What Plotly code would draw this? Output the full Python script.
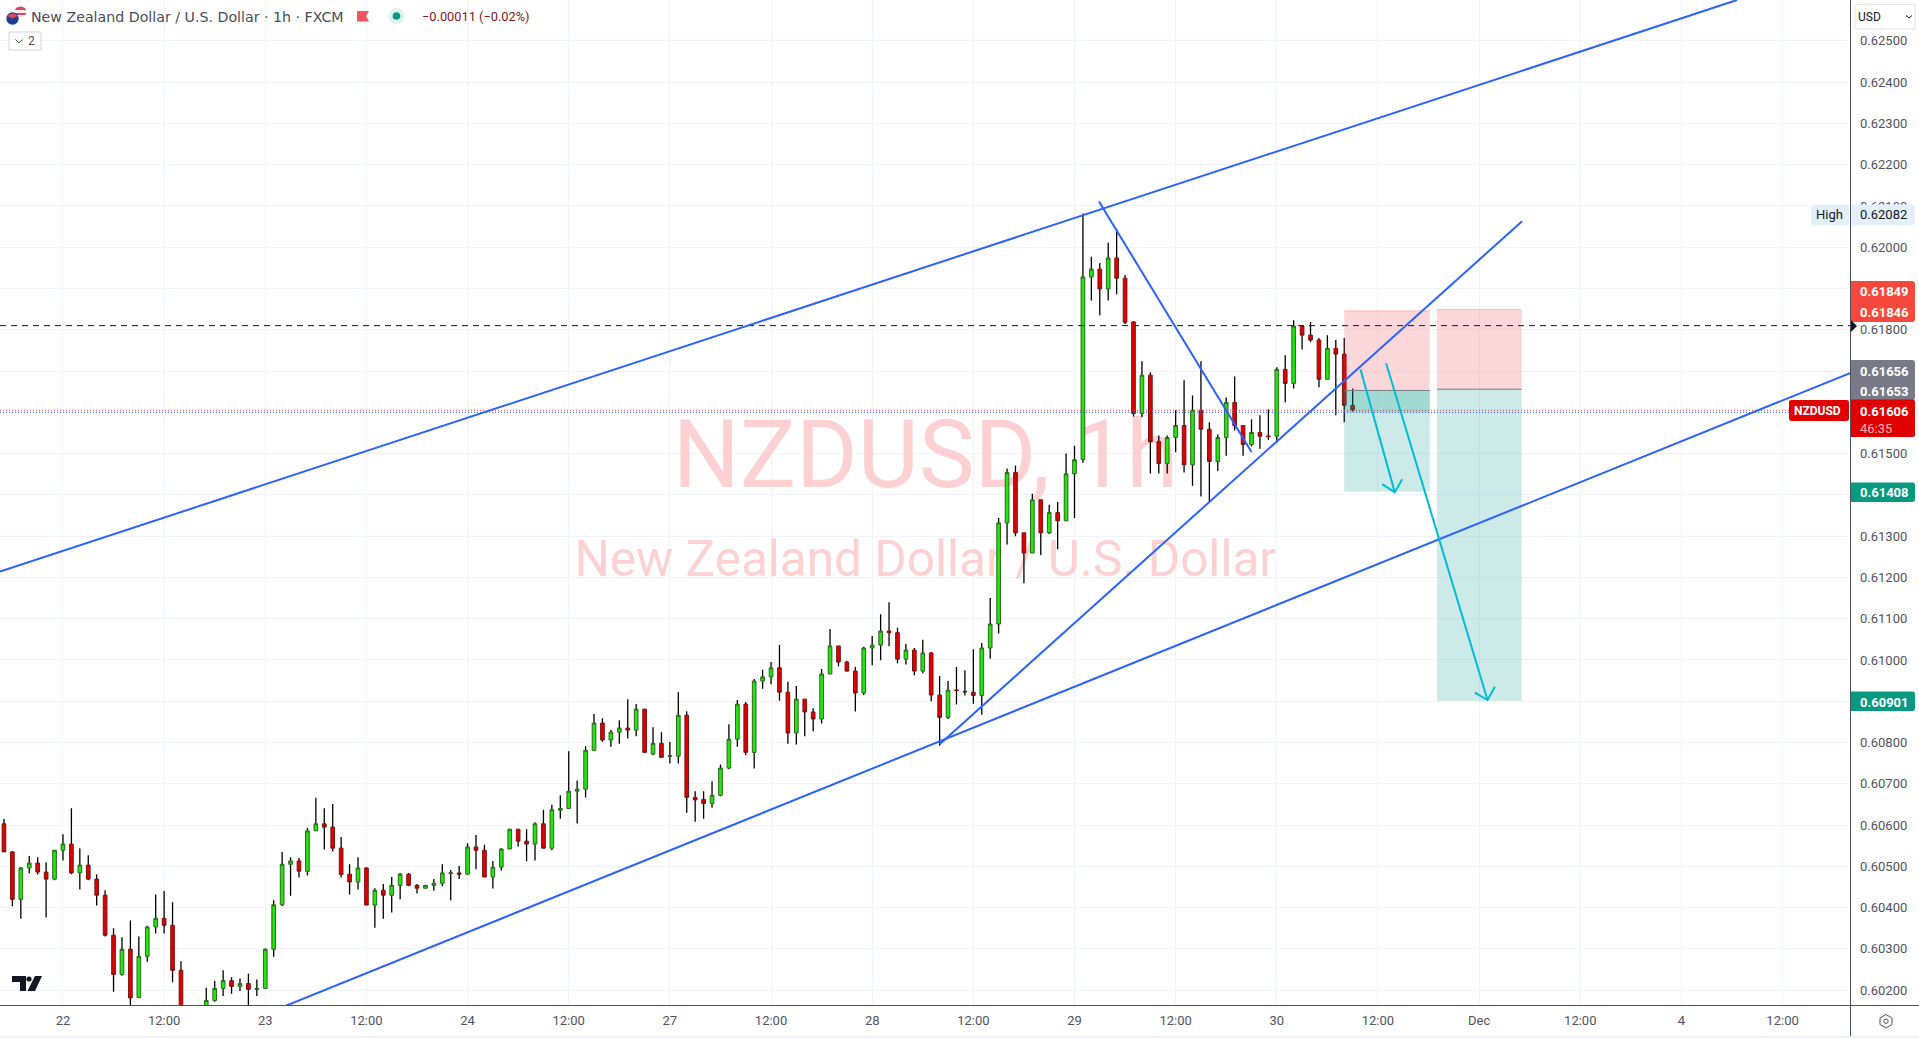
import numpy as np
import plotly.graph_objects as go

# ---------- data (prices in 1e-5 units) ----------
first_bar, last_bar = -7, 153
highs_pts = [
60615,60537,60498,60525,60522,60510,60539,60578,60641,60544,
60527,60481,60442,60350,60328,60369,60330,60356,60432,60440,
60413,60270,60151,60155,60206,60223,60248,60231,60228,60240,
60226,60301,60418,60535,60522,60520,60593,60666,60641,60651,
60571,60505,60522,60498,60447,60457,60474,60484,60484,60457,
60455,60469,60505,60491,60501,60556,60576,60552,60513,60544,
60590,60590,60590,60607,60637,60649,60672,60779,60708,60791,
60869,60859,60830,60854,60905,60893,60881,60837,60825,60801,
60922,60876,60682,60682,60706,60747,60844,60903,60898,60954,
60976,60995,61036,60947,60937,60905,60883,60978,61075,61034,
60998,60983,61032,61058,61111,61140,61078,61039,61029,61049,
61019,60961,60949,60983,60975,61026,61041,61150,61344,61464,
61471,61308,61403,61388,61376,61383,61500,61519,62082,61977,
61962,62011,62045,61933,61821,61724,61697,61544,61544,61605,
61678,61641,61724,61576,61546,61636,61687,61568,61583,61593,
61607,61709,61738,61823,61811,61819,61780,61787,61775,61780,61658]
lows_pts = [
60535,60403,60373,60483,60480,60376,60466,60514,60481,60444,
60466,60405,60330,60196,60235,60143,60181,60269,60337,60337,
60219,60119,60070,60085,60125,60172,60186,60191,60198,60151,
60186,60204,60281,60404,60429,60473,60478,60586,60541,60536,
60473,60432,60444,60406,60351,60373,60388,60420,60452,60434,
60446,60441,60452,60417,60469,60480,60493,60474,60446,60490,
60542,60548,60512,60514,60544,60539,60615,60640,60604,60667,
60781,60802,60790,60797,60810,60815,60776,60769,60764,60749,
60749,60630,60608,60615,60642,60670,60735,60790,60769,60737,
60930,60941,60901,60797,60795,60815,60827,60846,60966,60985,
60972,60875,60915,60987,60999,61033,60992,60989,60963,60968,
60900,60793,60857,60892,60914,60894,60867,61003,61064,61280,
61300,61186,61259,61254,61305,61268,61337,61344,61478,61871,
61835,61871,61886,61814,61590,61588,61452,61452,61452,61503,
61454,61422,61396,61381,61458,61495,61556,61495,61517,61512,
61533,61527,61624,61658,61752,61770,61661,61680,61593,61576,61602]
opens_pts = [
60603,60535,60420,60496,60508,60486,60469,60539,60554,60484,
60503,60469,60430,60333,60238,60299,60182,60282,60353,60374,
60357,60248,60127,60095,60135,60175,60204,60223,60209,60216,
60202,60204,60299,60407,60505,60513,60488,60586,60603,60595,
60544,60481,60462,60496,60406,60442,60430,60454,60481,60454,
60447,60454,60459,60483,60484,60481,60547,60539,60474,60498,
60542,60590,60561,60554,60603,60544,60636,60640,60682,60687,
60781,60847,60806,60825,60835,60830,60881,60772,60798,60766,
60767,60866,60667,60662,60652,60672,60738,60808,60893,60776,
60949,60959,60981,60922,60823,60905,60874,60857,60966,61034,
60995,60973,60920,61029,61036,61070,61066,61002,61024,60973,
61017,60915,60861,60927,60924,60922,60914,61029,61087,61332,
61454,61308,61259,61388,61308,61357,61337,61451,61486,61928,
61947,61899,61974,61925,61819,61597,61690,61529,61476,61539,
61568,61473,61605,61559,61481,61539,61624,61568,61522,61551,
61542,61542,61704,61670,61809,61787,61775,61680,61755,61741,61617]
closes_pts = [
60535,60420,60496,60508,60486,60469,60539,60554,60484,60503,
60469,60430,60333,60238,60299,60181,60282,60353,60374,60357,
60248,60127,60095,60135,60175,60204,60223,60209,60216,60202,
60204,60299,60407,60505,60513,60488,60586,60603,60595,60544,
60480,60462,60496,60406,60442,60430,60454,60481,60454,60447,
60454,60459,60484,60484,60481,60547,60539,60474,60498,60542,
60590,60561,60554,60603,60544,60637,60640,60682,60687,60781,
60847,60806,60825,60835,60830,60881,60776,60798,60764,60768,
60866,60667,60661,60652,60672,60738,60808,60893,60776,60949,
60959,60981,60922,60823,60905,60874,60857,60966,61034,60995,
60973,60920,61029,61036,61070,61066,61002,61024,60973,61017,
60915,60861,60927,60926,60923,60914,61029,61087,61332,61454,
61308,61259,61388,61308,61357,61337,61451,61485,61928,61947,
61899,61974,61925,61818,61597,61690,61529,61476,61539,61568,
61473,61605,61559,61481,61539,61624,61568,61522,61551,61542,
61541,61704,61670,61809,61787,61775,61680,61755,61741,61617,61606]

time_tick_bars = [0,12,24,36,48,60,72,84,96,108,120,132,144,156,168,180,192,204]
time_tick_text = ["22","12:00","23","12:00","24","12:00","27","12:00","28","12:00",
                  "29","12:00","30","12:00","Dec","12:00","4","12:00"]
price_ticks = [0.602,0.603,0.604,0.605,0.606,0.607,0.608,0.609,0.610,0.611,0.612,0.613,
               0.614,0.615,0.616,0.617,0.618,0.619,0.620,0.621,0.622,0.623,0.624,0.625]

# drawings, in bars / prices
channel_top_x, channel_top_y = [-7.47, 198.6], [0.61214, 0.62599]
channel_low_x, channel_low_y = [26.3, 212.0], [0.60161, 0.61695]
wedge_x, wedge_y = [104.0, 173.1], [0.60796, 0.62063]
fall_x, fall_y = [122.9, 141.0], [0.62111, 0.61504]
level_dashed = 0.6181
last_red, last_blue = 0.61605, 0.61600
box1_x, box2_x = [152.0, 162.15], [163.0, 173.05]
box1_top, box1_entry, box1_target = 0.61846, 0.61653, 0.61408
box2_top, box2_entry, box2_target = 0.61849, 0.61656, 0.60901
arrow1_x, arrow1_y = [153.93, 158.0], [0.61704, 0.61406]
arrow1_head_x, arrow1_head_y = [156.5, 158.0, 158.87], [0.61426, 0.61406, 0.61438]
arrow2_x, arrow2_y = [156.97, 169.0], [0.61719, 0.60903]
arrow2_head_x, arrow2_head_y = [167.5, 169.0, 169.87], [0.60921, 0.60903, 0.60935]
wm_x, wm_y1, wm_y2 = 102.3, 0.61475, 0.61233

X_RANGE = [-7.47, 212.0]
Y_RANGE = [0.60164, 0.62599]

# ---------- layout helpers (pixel chrome only) ----------
W, H = 1919, 1038
PW, PH = 1850, 1005
def px(x): return x / PW
def py(y): return 1 - y / PH
FONT = "Roboto"
AXC = "#50535e"
shapes, annos = [], []
def text(x, y, s, size=13, color=AXC, bold=False, anchor="left", family=FONT):
    annos.append(dict(xref="paper", yref="paper", x=px(x), y=py(y), text=f"<b>{s}</b>" if bold else s,
                      showarrow=False, xanchor=anchor, yanchor="middle",
                      font=dict(family=family, size=size, color=color),
                      borderpad=0, borderwidth=0))
def path(d_pts, fill=None, line=None, lw=1):
    d = ""
    for c, *pts in d_pts:
        d += c + " ".join(f"{px(pts[i]):.6f},{py(pts[i+1]):.6f}" for i in range(0, len(pts), 2))
    shapes.append(dict(type="path", xref="paper", yref="paper", path=d, fillcolor=fill or "rgba(0,0,0,0)",
                       line=dict(color=line or "rgba(0,0,0,0)", width=lw if line else 0), layer="above"))
def tag(x0, x1, y0, y1, fill, r=2.5, left_round=False):
    lr = r if left_round else 0
    path([("M", x0+lr, y0), ("L", x1-r, y0), ("Q", x1, y0, x1, y0+r), ("L", x1, y1-r), ("Q", x1, y1, x1-r, y1),
          ("L", x0+lr, y1), ("Q", x0, y1, x0, y1-lr), ("L", x0, y0+lr), ("Q", x0, y0, x0+lr, y0), ("Z",)], fill=fill)
def circle(cx, cy, r, fill, line=None, lw=1):
    shapes.append(dict(type="circle", xref="paper", yref="paper", x0=px(cx-r), x1=px(cx+r), y0=py(cy+r), y1=py(cy-r),
                       fillcolor=fill, line=dict(color=line or "rgba(0,0,0,0)", width=lw if line else 0), layer="above"))
def seg(x0, y0, x1, y1, color, lw=1):
    shapes.append(dict(type="line", xref="paper", yref="paper", x0=px(x0), x1=px(x1), y0=py(y0), y1=py(y1),
                       line=dict(color=color, width=lw), layer="above"))

# ---------- traces ----------
bars = list(range(first_bar, last_bar + 1))
o = np.array(opens_pts) / 1e5
h = np.array(highs_pts) / 1e5
l = np.array(lows_pts) / 1e5
c = np.array(closes_pts) / 1e5
assert len(bars) == len(o) == len(h) == len(l) == len(c)

fig = go.Figure()
# watermark sits on the base axes so candles paint above it
WMC = "#fdd0d2"
fig.add_trace(go.Scatter(x=[wm_x], y=[wm_y1], mode="text", text=["NZDUSD, 1h"], textposition="middle center",
                         textfont=dict(family=FONT, size=94, color=WMC), showlegend=False, hoverinfo="skip"))
fig.add_trace(go.Scatter(x=[wm_x], y=[wm_y2], mode="text", text=["New Zealand Dollar / U.S. Dollar"],
                         textposition="middle center",
                         textfont=dict(family=FONT, size=49.5, color=WMC), showlegend=False, hoverinfo="skip"))
# wicks
mid = (o + c) / 2
fig.add_trace(go.Candlestick(x=bars, open=mid, close=mid, high=h, low=l, xaxis="x2", yaxis="y2", whiskerwidth=0,
                             increasing=dict(line=dict(color="#000000", width=1.3), fillcolor="#000000"),
                             decreasing=dict(line=dict(color="#000000", width=1.3), fillcolor="#000000"),
                             showlegend=False, hoverinfo="skip"))
# bodies
fig.add_trace(go.Candlestick(x=bars, open=o, close=c, high=np.maximum(o, c), low=np.minimum(o, c),
                             xaxis="x2", yaxis="y2", whiskerwidth=0,
                             increasing=dict(line=dict(color="#2b6a1c", width=1), fillcolor="#22e60c"),
                             decreasing=dict(line=dict(color="#7a1410", width=1), fillcolor="#e00000"),
                             showlegend=False, hoverinfo="skip"))

def line(x, y, color, width=2, dash=None):
    fig.add_trace(go.Scatter(x=x, y=y, mode="lines", xaxis="x2", yaxis="y2", showlegend=False, hoverinfo="skip",
                             line=dict(color=color, width=width, dash=dash)))
def box(xs, y0, y1, fill):
    fig.add_trace(go.Scatter(x=[xs[0], xs[1], xs[1], xs[0], xs[0]], y=[y0, y0, y1, y1, y0], mode="lines", fill="toself",
                             fillcolor=fill, line=dict(width=0), xaxis="x2", yaxis="y2", showlegend=False, hoverinfo="skip"))

RED_F, TEAL_F = "rgba(242,54,69,0.2)", "rgba(0,150,136,0.2)"
box(box1_x, box1_entry, box1_top, RED_F)
box(box1_x, box1_target, box1_entry, TEAL_F)
box(box1_x, last_blue, box1_entry, TEAL_F)
box(box2_x, box2_entry, box2_top, RED_F)
box(box2_x, box2_target, box2_entry, TEAL_F)
line(box1_x, [box1_top]*2, "rgba(242,54,69,0.25)", 1)
line(box2_x, [box2_top]*2, "rgba(242,54,69,0.25)", 1)
line(box1_x, [box1_entry]*2, "#787b86", 1)
line(box2_x, [box2_entry]*2, "#787b86", 1)

line(X_RANGE, [level_dashed]*2, "#131722", 1, "6px,5px")
line(X_RANGE, [last_red]*2, "#f23645", 1, "1px,2px")
line(X_RANGE, [last_blue]*2, "#2962ff", 1, "1px,2px")
BLUE = "#2962ff"
line(channel_top_x, channel_top_y, BLUE)
line(channel_low_x, channel_low_y, BLUE)
line(wedge_x, wedge_y, BLUE)
line(fall_x, fall_y, BLUE)
ARW = "#00bcd4"
line(arrow1_x, arrow1_y, ARW)
line(arrow1_head_x, arrow1_head_y, ARW)
line(arrow2_x, arrow2_y, ARW)
line(arrow2_head_x, arrow2_head_y, ARW)

# ---------- chrome ----------
seg(PW+0.5, 0, PW+0.5, 1036.5, AXC, 1)
seg(0, PH+0.5, W, PH+0.5, AXC, 1)
seg(0, 1037, W, 1037, "#e0e3eb", 1)

# price-axis tags
tag(1811, 1849, 204.5, 225, "#e3effd", left_round=True)
tag(1851, 1915, 204.5, 225, "#e3effd")
text(1816, 214, "High", 13, "#131722")
text(1860, 214.5, "0.62082", 13, "#131722")
tag(1851, 1915, 281, 322, "#f7483d")
text(1860, 292, "0.61849", 13, "#ffffff", True)
text(1860, 312, "0.61846", 13, "#ffffff", True)
tag(1851, 1915, 360, 400, "#787b86")
text(1860, 371, "0.61656", 13, "#ffffff", True)
text(1860, 391, "0.61653", 13, "#ffffff", True)
tag(1851, 1915, 399.5, 437, "#e00000")
text(1860, 411, "0.61606", 13, "#ffffff", True)
text(1860, 428, "46:35", 13, "#f9b3b3")
tag(1789, 1849, 400, 421, "#e00000", left_round=True)
text(1794, 411, "NZDUSD", 12, "#ffffff", True)
tag(1851, 1915, 482.5, 502, "#089981")
text(1860, 493, "0.61408", 13, "#ffffff", True)
tag(1851, 1915, 691.5, 711, "#089981")
text(1860, 702, "0.60901", 13, "#ffffff", True)
path([("M", 1851, 320), ("L", 1857, 326), ("L", 1851, 332), ("Z",)], fill="#131722")

# USD selector
shapes.append(dict(type="rect", xref="paper", yref="paper", x0=px(1855), x1=px(1915), y0=py(29), y1=py(4.5),
                   fillcolor="#ffffff", line=dict(color="#e0e3eb", width=1), layer="above"))
text(1858, 17, "USD", 12, "#131722")
path([("M", 1906, 15.5), ("L", 1909, 18), ("L", 1912, 15.5)], line="#131722", lw=1)

# gear
path([("M", 1886, 1014.5), ("L", 1892, 1018), ("L", 1892, 1024.5), ("L", 1886, 1028), ("L", 1880, 1024.5), ("L", 1880, 1018), ("Z",)],
     line=AXC, lw=1)
circle(1886, 1021.2, 2.2, "#ffffff", AXC, 1)

# header
circle(20.5, 12, 5.8, "#f4f0f2")
path([("M", 16, 8), ("Q", 20.5, 4.8, 25, 8), ("L", 26, 10), ("L", 15, 10), ("Z",)], fill="#e0435a")
path([("M", 15, 13), ("L", 26, 13), ("L", 25.6, 15), ("L", 15.4, 15), ("Z",)], fill="#e0435a")
circle(12.5, 18.5, 6.2, "#1c3f8f")
path([("M", 7, 16), ("Q", 12.5, 10.5, 18, 16), ("L", 12.5, 18.5), ("Z",)], fill="#e0435a")
text(31, 16.5, "New Zealand Dollar / U.S. Dollar · 1h · FXCM", 14.2, "#4a4d57", family="DejaVu Sans")
path([("M", 357, 11), ("L", 369, 11), ("L", 366, 16), ("L", 369, 21.5), ("L", 357, 21.5), ("Z",)], fill="#f7525f")
circle(396.5, 16, 8, "#dff2ef")
circle(396.5, 16, 3.8, "#089981")
text(422, 16.5, "−0.00011 (−0.02%)", 12.8, "#801922")
shapes.append(dict(type="rect", xref="paper", yref="paper", x0=px(9), x1=px(41), y0=py(50), y1=py(32),
                   fillcolor="#ffffff", line=dict(color="#d1d4dc", width=1), layer="above"))
path([("M", 15.5, 39.5), ("L", 19, 43), ("L", 22.5, 39.5)], line="#4a4d57", lw=1)
text(28, 41, "2", 12, "#4a4d57")

# TradingView mark
LOGO = "#131722"
path([("M", 12, 976), ("L", 26, 976), ("L", 26, 991), ("L", 20, 991), ("L", 20, 982), ("L", 12, 982), ("Z",)], fill=LOGO)
circle(29, 979, 2.6, LOGO)
path([("M", 35, 976), ("L", 42, 976), ("L", 35, 991), ("L", 27.5, 991), ("Z",)], fill=LOGO)

GRID = "#f0f3fa"
fig.update_layout(
    width=W, height=H, margin=dict(l=0, r=W-PW, t=0, b=H-PH, pad=0),
    paper_bgcolor="#ffffff", plot_bgcolor="#ffffff", showlegend=False, hovermode=False,
    boxmode="overlay", boxgap=0.38,
    font=dict(family=FONT, size=13, color=AXC),
    xaxis=dict(range=X_RANGE, tickmode="array", tickvals=time_tick_bars, ticktext=time_tick_text,
               showgrid=True, gridcolor=GRID, gridwidth=1, zeroline=False, showline=False, ticks="",
               tickangle=0, tickfont=dict(family=FONT, size=13, color=AXC), ticklabelstandoff=6,
               rangeslider=dict(visible=False), fixedrange=True),
    yaxis=dict(range=Y_RANGE, side="right", tickmode="array", tickvals=price_ticks, tickformat=".5f",
               showgrid=True, gridcolor=GRID, gridwidth=1, zeroline=False, showline=False, ticks="",
               tickfont=dict(family=FONT, size=13, color=AXC), ticklabelstandoff=9, fixedrange=True),
    xaxis2=dict(range=X_RANGE, overlaying="x", visible=False, rangeslider=dict(visible=False), fixedrange=True),
    yaxis2=dict(range=Y_RANGE, overlaying="y", side="right", visible=False, fixedrange=True),
    shapes=shapes, annotations=annos,
)

fig.write_html("out.html", config=dict(displayModeBar=False, responsive=False),
               post_script="document.body.style.margin='0';document.body.style.overflow='hidden';")
